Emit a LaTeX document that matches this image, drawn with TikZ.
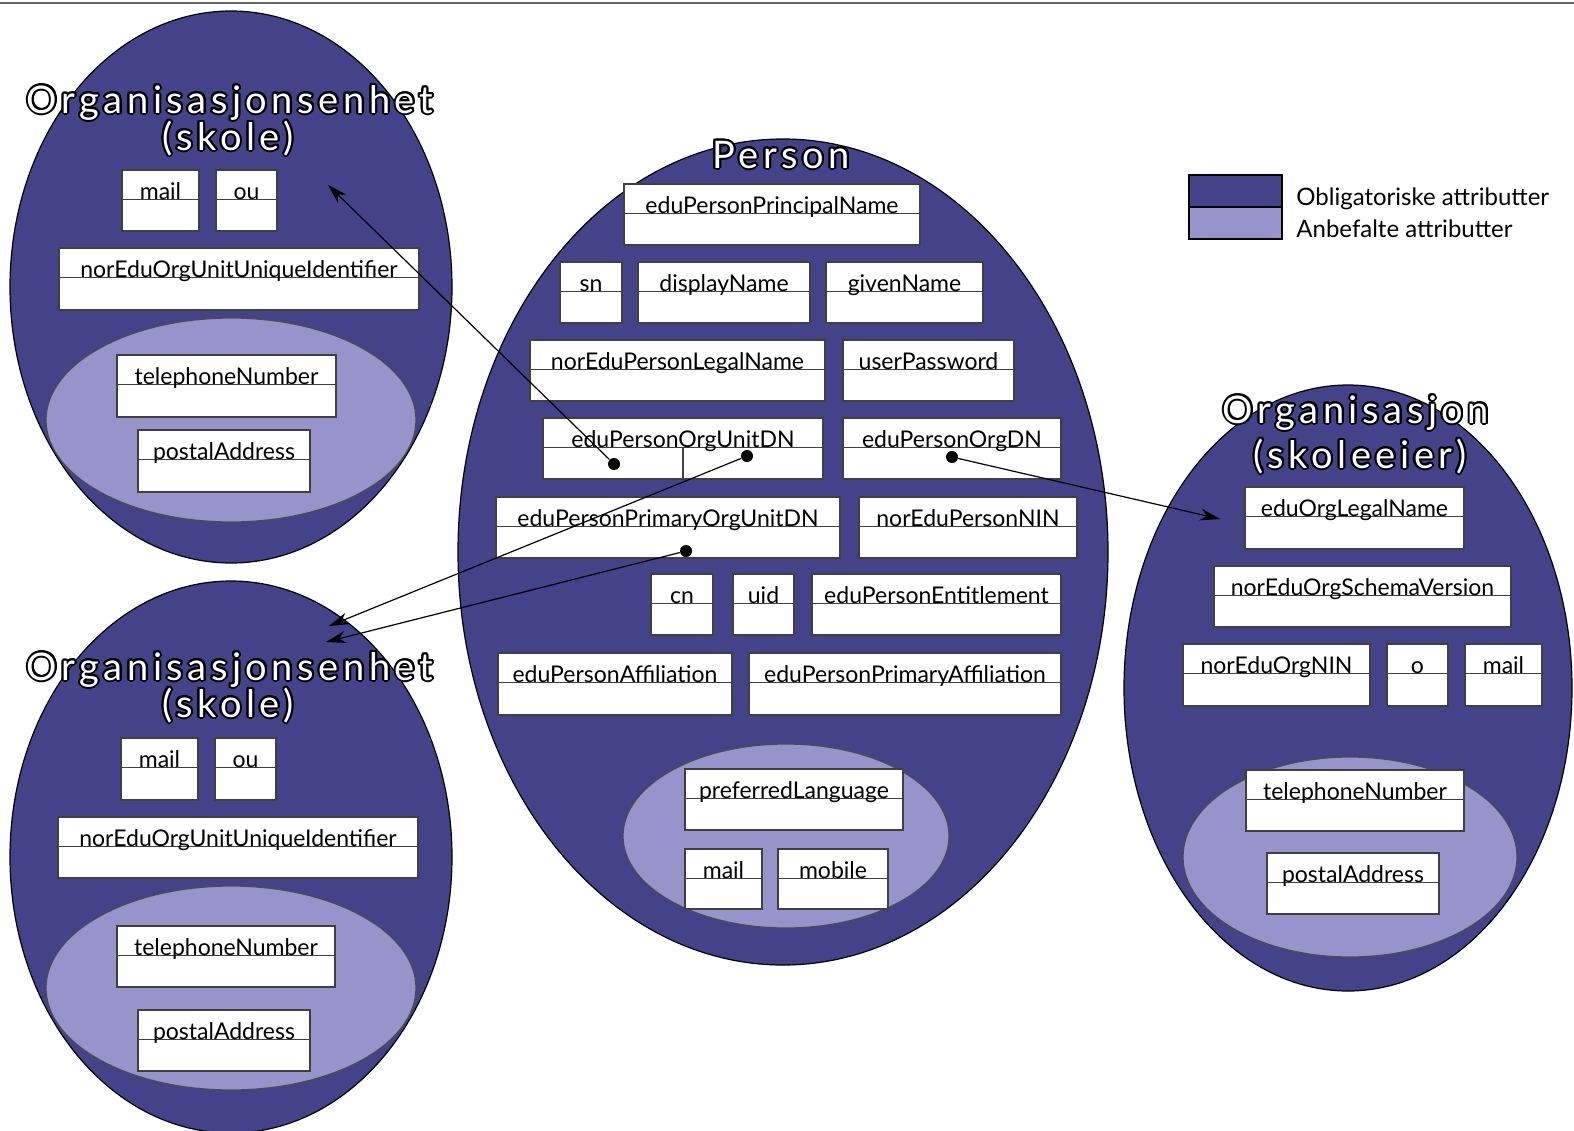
\documentclass[tikz,border=0pt]{standalone}
\usepackage{fontspec}
\setmainfont{Lato}
\newfontfamily\titlefont[LetterSpace=12]{Lato}
\usepackage{contour}
\contourlength{1pt}
\usetikzlibrary{arrows.meta,fit}

\definecolor{oblig}{RGB}{68,66,136}
\definecolor{anbef}{RGB}{150,148,202}

\tikzset{
  obl/.style={fill=oblig, draw=black, line width=0.6pt},
  anb/.style={fill=anbef, draw=black!70, line width=0.6pt},
  attr/.style={draw=black!75, fill=white, line width=0.7pt, inner sep=0pt},
  attrline/.style={draw=black!75, line width=0.7pt},
  attrtext/.style={font=\fontsize{11.5}{12}\selectfont, anchor=base, inner sep=0pt},
  title/.style={font=\titlefont\fontsize{19}{19}\selectfont, text=white, anchor=base, inner sep=0pt},
  legtext/.style={font=\fontsize{12}{12}\selectfont, anchor=base west, inner sep=0pt},
  dot/.style={circle, fill=black, inner sep=0pt, minimum size=6pt},
  link/.style={-{Stealth[length=10pt,width=6pt]}, line width=0.6pt},
}

% name, top left x y, bottom right x y, label
\newcommand{\attrbox}[6]{%
  \node[attr, fit={(#2,#3) (#4,#5)}] (#1) {};
  \draw[attrline] ([yshift=-15pt]#1.north west) -- ([yshift=-15pt]#1.north east);
  \node[attrtext] (#1-l) at ([yshift=-15pt]#1.north) {#6};
}
\newcommand{\tittel}[1]{\contour{black}{#1}}

\begin{document}
\begin{tikzpicture}[x=0.5pt,y=-0.5pt]
\useasboundingbox (0,0) rectangle (1574,1130);
\draw[black!60, line width=1pt] (0,3) -- (1574,3);

% ellipses
\draw[obl] (231,287) ellipse [x radius=221, y radius=276];
\draw[anb] (231,420) ellipse [x radius=185, y radius=102];
\draw[obl] (231,857) ellipse [x radius=221, y radius=276];
\draw[anb] (231,988) ellipse [x radius=185, y radius=102];
\draw[obl] (783,552) ellipse [x radius=325, y radius=413];
\draw[anb] (786,836) ellipse [x radius=163, y radius=92];
\draw[obl] (1348,688) ellipse [x radius=224, y radius=303];
\draw[anb] (1350,857) ellipse [x radius=167, y radius=100];

% titles
\node[title] (ouTitleA) at (230,113) {\tittel{Organisasjonsenhet}};
\node[title] (ouSubA)   at (228,150) {\tittel{(skole)}};
\node[title] (ouTitleB) at (230,680) {\tittel{Organisasjonsenhet}};
\node[title] (ouSubB)   at (228,717) {\tittel{(skole)}};
\node[title] (pTitle)   at (781,168) {\tittel{Person}};
\node[title] (oTitle)   at (1356,423) {\tittel{Organisasjon}};
\node[title] (oSub)     at (1360,468) {\tittel{(skoleeier)}};

% organisasjonsenhet, top
\attrbox{ouMailA}{122}{170}{199}{231}{mail}
\attrbox{ouOuA}{216}{170}{277}{231}{ou}
\attrbox{ouIdA}{59}{248}{419}{310}{norEduOrgUnitUniqueIdentifier}
\attrbox{ouTelA}{117}{355}{336}{417}{telephoneNumber}
\attrbox{ouPostA}{138}{430}{310}{492}{postalAddress}

% organisasjonsenhet, bottom
\attrbox{ouMailB}{121}{738}{198}{800}{mail}
\attrbox{ouOuB}{215}{738}{276}{800}{ou}
\attrbox{ouIdB}{58}{817}{418}{878}{norEduOrgUnitUniqueIdentifier}
\attrbox{ouTelB}{117}{926}{335}{987}{telephoneNumber}
\attrbox{ouPostB}{138}{1010}{310}{1071}{postalAddress}

% person
\attrbox{pPrincipal}{624}{184}{920}{245}{eduPersonPrincipalName}
\attrbox{pSn}{560}{262}{622}{323}{sn}
\attrbox{pDisplay}{638}{262}{810}{323}{displayName}
\attrbox{pGiven}{826}{262}{983}{323}{givenName}
\attrbox{pLegal}{530}{340}{825}{401}{norEduPersonLegalName}
\attrbox{pPassword}{843}{340}{1014}{401}{userPassword}
\attrbox{pOUDN}{543}{418}{823}{479}{eduPersonOrgUnitDN}
\draw[attrline] ([yshift=-15pt]pOUDN.north) -- (pOUDN.south);
\attrbox{pOrgDN}{843}{418}{1061}{479}{eduPersonOrgDN}
\attrbox{pPrimOU}{496}{497}{840}{558}{eduPersonPrimaryOrgUnitDN}
\attrbox{pNIN}{859}{497}{1077}{558}{norEduPersonNIN}
\attrbox{pCn}{651}{574}{713}{635}{cn}
\attrbox{pUid}{733}{574}{794}{635}{uid}
\attrbox{pEntitle}{812}{574}{1061}{635}{eduPersonEntitlement}
\attrbox{pAffil}{498}{653}{732}{715}{eduPersonAffiliation}
\attrbox{pPrimAffil}{749}{653}{1061}{715}{eduPersonPrimaryAffiliation}
\attrbox{pLang}{685}{769}{903}{830}{preferredLanguage}
\attrbox{pMail}{685}{849}{762}{909}{mail}
\attrbox{pMobile}{778}{849}{888}{909}{mobile}

% organisasjon
\attrbox{oLegal}{1245}{487}{1464}{549}{eduOrgLegalName}
\attrbox{oSchema}{1214}{566}{1511}{627}{norEduOrgSchemaVersion}
\attrbox{oNIN}{1183}{644}{1370}{706}{norEduOrgNIN}
\attrbox{oO}{1387}{644}{1448}{706}{o}
\attrbox{oMail}{1465}{644}{1542}{706}{mail}
\attrbox{oTel}{1246}{770}{1464}{831}{telephoneNumber}
\attrbox{oPost}{1267}{853}{1439}{914}{postalAddress}

% legend
\node[draw=black, line width=0.8pt, fill=oblig, inner sep=0pt, fit={(1189,175) (1282,207)}] (legObl) {};
\node[draw=black, line width=0.8pt, fill=anbef, inner sep=0pt, fit={(1189,207) (1282,239)}] (legAnb) {};
\node[legtext] (legOblT) at (1296,205) {Obligatoriske attributter};
\node[legtext] (legAnbT) at (1296,237) {Anbefalte attributter};

% references
\node[dot] (dotOUa)  at (614,464) {};
\node[dot] (dotOUb)  at (747,456) {};
\node[dot] (dotOrg)  at (952,457) {};
\node[dot] (dotPrim) at (686,551) {};
\coordinate (tipSkoleA)  at (328,185);
\coordinate (tipSkoleB1) at (329,626);
\coordinate (tipSkoleB2) at (326,642);
\coordinate (tipEier)    at (1220,519);

\draw[link] (dotOUa) -- (tipSkoleA);
\draw[link] (dotOUb) -- (tipSkoleB1);
\draw[link] (dotPrim) -- (tipSkoleB2);
\draw[link] (dotOrg) -- (tipEier);
\end{tikzpicture}
\end{document}
